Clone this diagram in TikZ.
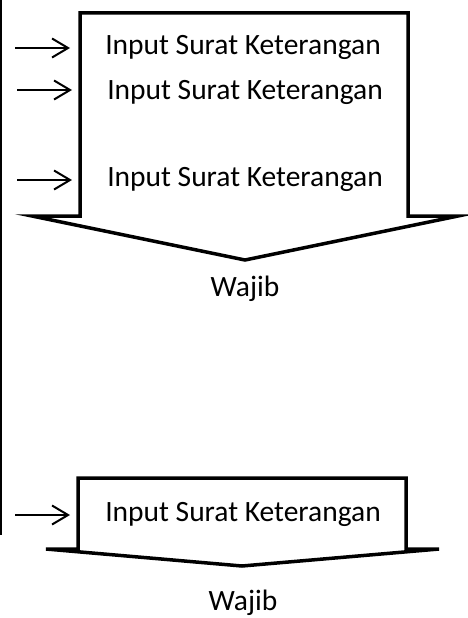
\documentclass[tikz,border=0pt]{standalone}
\usepackage{fontspec}
\setmainfont{Carlito}
\usetikzlibrary{arrows.meta}
\begin{document}
\begin{tikzpicture}[x=1pt,y=-1pt,
  block/.style={line width=3.5pt,line join=miter},
  lbl/.style={inner sep=0pt,font=\fontsize{29.5}{34}\selectfont},
  inarrow/.style={line width=2pt,-{Straight Barb[length=16pt,width=19pt,line width=2pt]}},
  rail/.style={line width=2pt}]
\useasboundingbox (0,0) rectangle (467,618);
% left rail
\coordinate (r1) at (1,0);
\coordinate (r2) at (1,535);
\draw[rail] (r1) -- (r2);
% top block arrow
\draw[block] (80,13) -- (408,13) -- (408,216) -- (458,216) -- (245,260) -- (32,216) -- (80,216) -- cycle;
\node[lbl] (t1) at (243,47) {Input Surat Keterangan};
\node[lbl] (t2) at (245,92) {Input Surat Keterangan};
\node[lbl] (t3) at (245,179) {Input Surat Keterangan};
\node[lbl] (w1) at (245,289) {Wajib};
% bottom block arrow
\draw[block] (78,478) -- (406,478) -- (406,549) -- (439,549) -- (242,566) -- (46,549) -- (78,549) -- cycle;
\node[lbl] (t4) at (243,514) {Input Surat Keterangan};
\node[lbl] (w2) at (243,603) {Wajib};
% input arrows
\coordinate (s1) at (15,48);  \coordinate (e1) at (70,48);
\coordinate (s2) at (17,90);  \coordinate (e2) at (72,90);
\coordinate (s3) at (17,180); \coordinate (e3) at (72,180);
\coordinate (s4) at (15,515); \coordinate (e4) at (70,515);
\draw[inarrow] (s1) -- (e1);
\draw[inarrow] (s2) -- (e2);
\draw[inarrow] (s3) -- (e3);
\draw[inarrow] (s4) -- (e4);
\end{tikzpicture}
\end{document}
